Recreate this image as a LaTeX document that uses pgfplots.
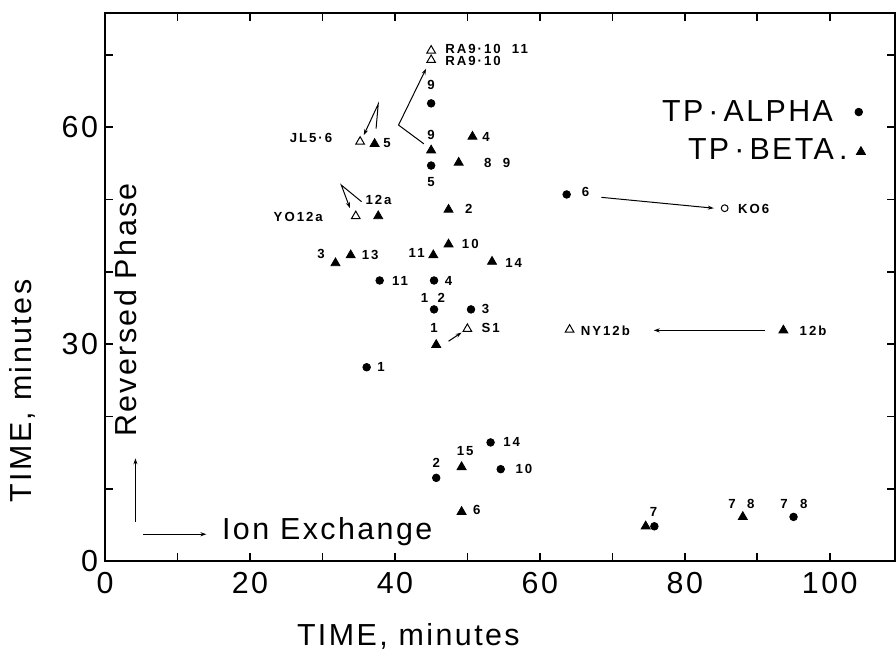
\documentclass[border=0pt]{standalone}
\usepackage{fontspec}
\setmainfont{Liberation Sans}
\newfontfamily\bigf[LetterSpace=8]{Liberation Sans}
\newfontfamily\smf[LetterSpace=15]{Liberation Sans}
\usepackage{pgfplots}
\pgfplotsset{compat=1.18}
\usetikzlibrary{arrows.meta}
\newcommand{\lab}{\smf\bfseries\fontsize{6.6}{8}\selectfont}
\newcommand{\bigtxt}{\bigf\fontsize{15.2}{18}\selectfont}
\begin{document}
\begin{tikzpicture}
\useasboundingbox (-52.5pt,-46.5pt) rectangle (395.5pt,280.5pt);
\begin{axis}[
 at={(0,0)}, anchor=south west, scale only axis, width=395pt, height=274pt,
 xmin=0, xmax=109, ymin=0, ymax=75.8,
 xtick={0,20,...,100}, minor xtick={10,30,...,90},
 ytick={0,30,60}, minor ytick={10,20,40,50,70},
 tick align=inside, major tick length=4pt, minor tick length=4pt,
 every tick/.style={black, line width=0.8pt},
 axis line style={line width=1pt},
 ticklabel style={font=\bigtxt},
 xticklabel style={yshift=-2pt},
 /pgf/number format/assume math mode=true,
 clip=false,
 >={Stealth[length=3pt,width=2pt]},
]
% TP-ALPHA (filled circles)
\addplot[only marks, mark=*, mark size=1.9pt, black] coordinates {
 (45.0,63.3) (45.0,54.7) (63.7,50.7) (37.9,38.8) (45.4,38.8) (45.4,34.8)
 (50.5,34.8) (36.1,26.8) (53.2,16.4) (54.6,12.7) (45.7,11.5) (75.8,4.8)
 (95.0,6.1) (104.0,62.1)};
% TP-BETA (filled triangles)
\addplot[only marks, mark=triangle*, mark size=2.6pt, black] coordinates {
 (45.0,56.8) (50.7,58.7) (48.8,55.1) (37.2,57.7) (37.7,47.7) (47.4,48.6)
 (47.4,43.8) (45.3,42.3) (31.8,41.2) (33.9,42.3) (53.4,41.4) (45.7,29.9)
 (93.6,31.9) (49.2,13.0) (49.2,6.8) (74.6,4.8) (88.0,6.1) (104.3,56.6)};
% open triangles
\addplot[only marks, mark=triangle, mark size=2.5pt, black, mark options={line width=0.5pt}] coordinates {
 (45.0,70.6) (45.0,69.3) (35.2,58.0) (34.6,47.7) (50.0,32.1) (64.1,32.0)};
% open circle
\addplot[only marks, mark=o, mark size=1.7pt, black, mark options={line width=0.5pt}] coordinates {
 (85.5,48.8)};

% arrows
\draw[->, line width=0.5pt] (axis cs:44.0,57.7) -- (axis cs:40.5,60.3) -- (axis cs:44.3,68.1);
\draw[->, line width=0.5pt] (axis cs:37.4,59.8) -- (axis cs:37.7,63.2) -- (axis cs:35.7,58.9);
\draw[->, line width=0.5pt] (axis cs:35.4,49.7) -- (axis cs:32.6,52.0) -- (axis cs:33.8,48.8);
\draw[->, line width=0.5pt] (axis cs:47.4,30.4) -- (axis cs:49.2,31.6);
\draw[->, line width=0.5pt] (axis cs:68.5,50.3) -- (axis cs:84.0,48.8);
\draw[->, line width=0.5pt] (axis cs:91.1,31.9) -- (axis cs:75.7,31.9);
\draw[->, line width=0.5pt] (axis cs:5.3,3.7) -- (axis cs:14.0,3.7);
\draw[->, line width=0.5pt] (axis cs:4.2,5.4) -- (axis cs:4.2,14.2);

% point labels
\begin{scope}[every node/.style={font=\lab, inner sep=0pt}]
\node[anchor=west] at (axis cs:46.9,70.8) {RA9·10\ \ 11};
\node[anchor=west] at (axis cs:46.9,69.2) {RA9·10};
\node at (axis cs:45.0,65.8) {9};
\node at (axis cs:45.0,58.9) {9};
\node at (axis cs:45.0,52.4) {5};
\node[anchor=west] at (axis cs:52.0,58.7) {4};
\node at (axis cs:52.8,55.0) {8};
\node at (axis cs:55.4,55.0) {9};
\node[anchor=east] at (axis cs:31.4,58.5) {JL5·6};
\node at (axis cs:38.9,57.8) {5};
\node[anchor=west] at (axis cs:35.9,49.9) {12a};
\node[anchor=east] at (axis cs:30.1,47.6) {YO12a};
\node at (axis cs:50.2,48.7) {2};
\node at (axis cs:50.4,43.8) {10};
\node at (axis cs:43.0,42.6) {11};
\node at (axis cs:29.8,42.4) {3};
\node at (axis cs:36.6,42.3) {13};
\node at (axis cs:56.4,41.2) {14};
\node at (axis cs:40.7,38.7) {11};
\node at (axis cs:47.4,38.8) {4};
\node at (axis cs:44.1,36.4) {1};
\node at (axis cs:46.4,36.4) {2};
\node at (axis cs:52.5,34.8) {3};
\node at (axis cs:53.2,32.2) {S1};
\node at (axis cs:45.4,32.2) {1};
\node at (axis cs:38.1,26.8) {1};
\node at (axis cs:45.7,13.6) {2};
\node at (axis cs:49.7,15.2) {15};
\node at (axis cs:51.3,7.1) {6};
\node at (axis cs:56.1,16.5) {14};
\node at (axis cs:57.8,12.8) {10};
\node at (axis cs:75.7,6.8) {7};
\node at (axis cs:86.5,7.9) {7};
\node at (axis cs:89.1,7.9) {8};
\node at (axis cs:93.7,7.9) {7};
\node at (axis cs:96.4,7.9) {8};
\node at (axis cs:66.3,51.1) {6};
\node[anchor=west] at (axis cs:87.3,48.7) {KO6};
\node[anchor=west] at (axis cs:65.6,31.9) {NY12b};
\node[anchor=west] at (axis cs:95.8,31.9) {12b};
\end{scope}

% legend-like texts
\node[font=\bigtxt, anchor=east, inner sep=0pt] at (axis cs:100.5,62.3) {TP\,·\,ALPHA};
\node[font=\bigtxt, anchor=east, inner sep=0pt] at (axis cs:102.5,57.0) {TP\,·\,BETA\,.};
\node[font=\bigtxt, anchor=west, inner sep=0pt] at (axis cs:16.1,4.1) {Ion Exchange};
\node[font=\bigtxt, anchor=west, inner sep=0pt, rotate=90] at (axis cs:2.8,17.1) {Reversed Phase};

% axis labels
\node[font=\bigtxt, inner sep=0pt] at (axis description cs:0.384,-0.138) {TIME, minutes};
\node[font=\bigtxt, inner sep=0pt, rotate=90] at (axis description cs:-0.104,0.31) {TIME, minutes};
\end{axis}
\end{tikzpicture}
\end{document}
